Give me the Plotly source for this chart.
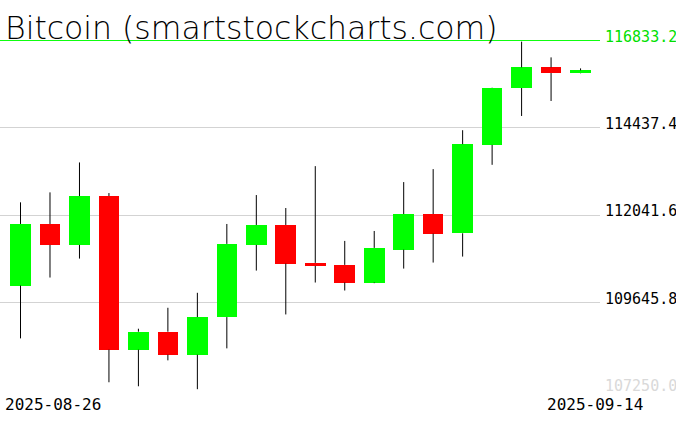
import plotly.graph_objects as go

TITLE = "Bitcoin (smartstockcharts.com)"

DATES = [
    "2025-08-26", "2025-08-27", "2025-08-28", "2025-08-29", "2025-08-30",
    "2025-08-31", "2025-09-01", "2025-09-02", "2025-09-03", "2025-09-04",
    "2025-09-05", "2025-09-06", "2025-09-07", "2025-09-08", "2025-09-09",
    "2025-09-10", "2025-09-11", "2025-09-12", "2025-09-13", "2025-09-14",
]
OPEN = [
    110106, 111795, 111220, 112562, 108345, 108838, 108208, 109240, 111220, 111768,
    110727, 110672, 110188, 111091, 112069, 111540, 113966, 115527, 116094, 115938,
]
HIGH = [
    112389, 112663, 113484, 112644, 108920, 109495, 109906, 111795, 112589, 112233,
    113383, 111330, 111603, 112945, 113301, 114369, 115546, 116800, 116368, 116066,
]
LOW = [
    108655, 110325, 110845, 107450, 107340, 108052, 107260, 108381, 110516, 109312,
    110188, 109969, 110170, 110571, 110736, 110900, 113419, 114760, 115171, 115930,
]
CLOSE = [
    111795, 111220, 112562, 108345, 108838, 108208, 109240, 111248, 111768, 110708,
    110645, 110188, 111138, 112069, 111530, 113986, 115538, 116094, 115938, 116012,
]

PRICE_TICKS = [107250.0, 109645.8, 112041.6, 114437.4, 116833.2]

COLORS = {
    "up": "#00ff00",
    "down": "#ff0000",
    "wick": "#000000",
    "grid": "#d3d3d3",
    "top": "#00e000",
    "bottom": "#d9d9d9",
}

MONO = "DejaVu Sans Mono"

# wicks split above/below the body so they never cross it
wick_x, wick_y = [], []
for d, o, h, l, c in zip(DATES, OPEN, HIGH, LOW, CLOSE):
    top, bot = max(o, c), min(o, c)
    wick_x += [d, d, None, d, d, None]
    wick_y += [h, top, None, bot, l, None]

body_base = [min(o, c) for o, c in zip(OPEN, CLOSE)]
body_size = [abs(c - o) for o, c in zip(OPEN, CLOSE)]
body_color = [COLORS["up"] if c >= o else COLORS["down"] for o, c in zip(OPEN, CLOSE)]

fig = go.Figure()
fig.add_trace(
    go.Bar(
        x=DATES,
        y=body_size,
        base=body_base,
        width=0.7,
        marker={"color": body_color, "line": {"width": 0}},
        hoverinfo="skip",
    )
)
fig.add_trace(
    go.Scatter(
        x=wick_x,
        y=wick_y,
        mode="lines",
        line={"color": COLORS["wick"], "width": 1},
        hoverinfo="skip",
    )
)

tick_text = []
for i, v in enumerate(PRICE_TICKS):
    label = f"{v:.1f}"
    if i == len(PRICE_TICKS) - 1:
        label = f"<span style='color:{COLORS['top']}'>{label}</span>"
    elif i == 0:
        label = f"<span style='color:{COLORS['bottom']}'>{label}</span>"
    tick_text.append(label)

fig.add_shape(
    type="line",
    xref="paper", x0=0, x1=1,
    yref="y", y0=PRICE_TICKS[-1], y1=PRICE_TICKS[-1],
    line={"color": COLORS["up"], "width": 1},
    layer="above",
)

fig.add_annotation(
    text=DATES[0], xref="paper", yref="paper", x=0, y=0,
    xanchor="left", yanchor="top", xshift=3, yshift=-3, showarrow=False,
    font={"family": MONO, "size": 16, "color": "black"},
)
fig.add_annotation(
    text=DATES[-1], xref="paper", yref="paper", x=1.075, y=0,
    xanchor="right", yanchor="top", yshift=-3, showarrow=False,
    font={"family": MONO, "size": 16, "color": "black"},
)

pad = 12  # keeps the edge gridlines from being dropped
fig.update_layout(
    width=676,
    height=431,
    margin={"l": 0, "r": 76, "t": 40, "b": 41},
    paper_bgcolor="white",
    plot_bgcolor="white",
    showlegend=False,
    bargap=0,
    title={
        "text": TITLE,
        "x": 5 / 676,
        "xanchor": "left",
        "xref": "container",
        "y": 1 - 27.8 / 431,
        "yanchor": "middle",
        "yref": "container",
        "font": {"family": "DejaVu Sans", "size": 31.5, "color": "black", "weight": 200},
    },
)
fig.update_xaxes(
    type="category",
    range=[-0.696, 19.66],
    showticklabels=False,
    showgrid=False,
    zeroline=False,
    showline=False,
    ticks="",
)
fig.update_yaxes(
    side="right",
    range=[PRICE_TICKS[0] - pad, PRICE_TICKS[-1] + pad],
    tickvals=PRICE_TICKS,
    ticktext=tick_text,
    showgrid=True,
    gridcolor=COLORS["grid"],
    gridwidth=1,
    zeroline=False,
    showline=False,
    ticks="",
    ticklabelshift=-4,
    ticklabelstandoff=4,
    automargin=False,
    tickfont={"family": MONO, "size": 15, "color": "black"},
)

fig.write_html(
    "out.html",
    config={"displayModeBar": False},
    post_script="document.body.style.margin='0';",
)
